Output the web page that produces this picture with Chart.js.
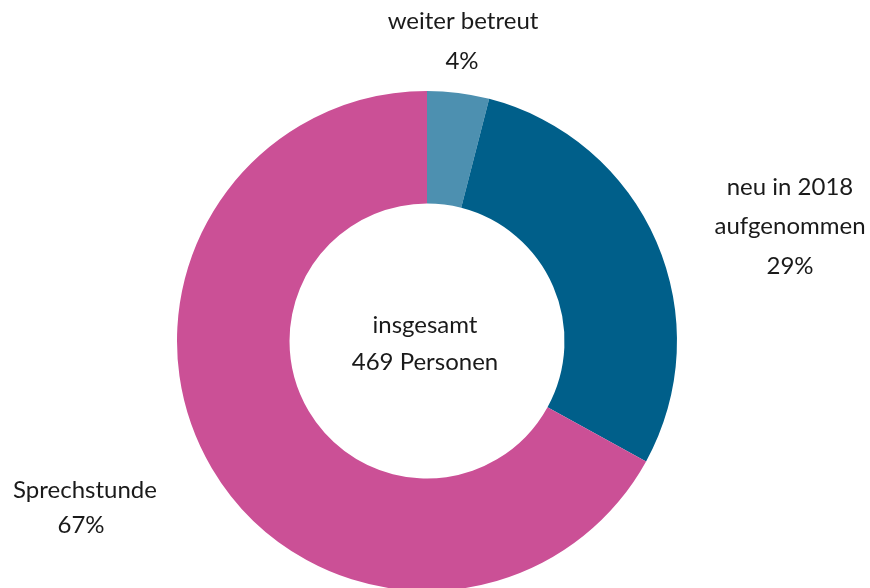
<!DOCTYPE html>
<html>
<head>
<meta charset="utf-8">
<script src="https://cdn.jsdelivr.net/npm/chart.js@4/dist/chart.umd.min.js"></script>
<style>
  html, body { margin: 0; padding: 0; background: #fff; overflow: hidden; }
  #wrap { width: 870px; height: 588px; position: relative; }
</style>
</head>
<body>
<div id="wrap"><canvas id="Chart1"></canvas></div>
<script>
// slices, clockwise from 12 o'clock
const categories = ['weiter betreut', 'neu in 2018 aufgenommen', 'Sprechstunde'];
const shares = [4, 29, 67];
const sliceLabels = [
  ['weiter betreut', '4%'],
  ['neu in 2018', 'aufgenommen', '29%'],
  ['Sprechstunde', '67%']
];
const centerText = ['insgesamt', '469 Personen'];

const colors = ['#4d90b0', '#005f8a', '#cb5096'];
const fontFamily = 'Lato, "Open Sans", sans-serif';

// where each label line sits (x center, y middle)
const labelPos = [
  [{ x: 463, y: 21 }, { x: 462, y: 61 }],
  [{ x: 790, y: 187 }, { x: 790, y: 226 }, { x: 790, y: 266 }],
  [{ x: 85, y: 490 }, { x: 81, y: 525 }]
];

const labelPlugin = {
  id: 'labels',
  afterDraw(chart) {
    const ctx = chart.ctx;
    const arc = chart.getDatasetMeta(0).data[0];
    ctx.save();
    ctx.fillStyle = '#1a1a1a';
    ctx.font = '24px ' + fontFamily;
    ctx.textAlign = 'center';
    ctx.textBaseline = 'middle';
    sliceLabels.forEach(function(lines, i) {
      lines.forEach(function(t, j) {
        ctx.fillText(t, labelPos[i][j].x, labelPos[i][j].y);
      });
    });
    ctx.fillText(centerText[0], arc.x - 2, arc.y - 16);
    ctx.fillText(centerText[1], arc.x - 2, arc.y + 21);
    ctx.restore();
  }
};

const ctx = document.getElementById('Chart1').getContext('2d');
const myChart = new Chart(ctx, {
  type: 'doughnut',
  data: {
    labels: categories,
    datasets: [{
      data: shares,
      backgroundColor: colors,
      borderWidth: 0
    }]
  },
  options: {
    responsive: true,
    maintainAspectRatio: false,
    animation: false,
    cutout: '55%',
    radius: 250,
    layout: { padding: { left: 0, right: 16, top: 100, bottom: 6 } },
    plugins: {
      legend: { display: false },
      tooltip: { enabled: false }
    }
  },
  plugins: [labelPlugin]
});
</script>
</body>
</html>
